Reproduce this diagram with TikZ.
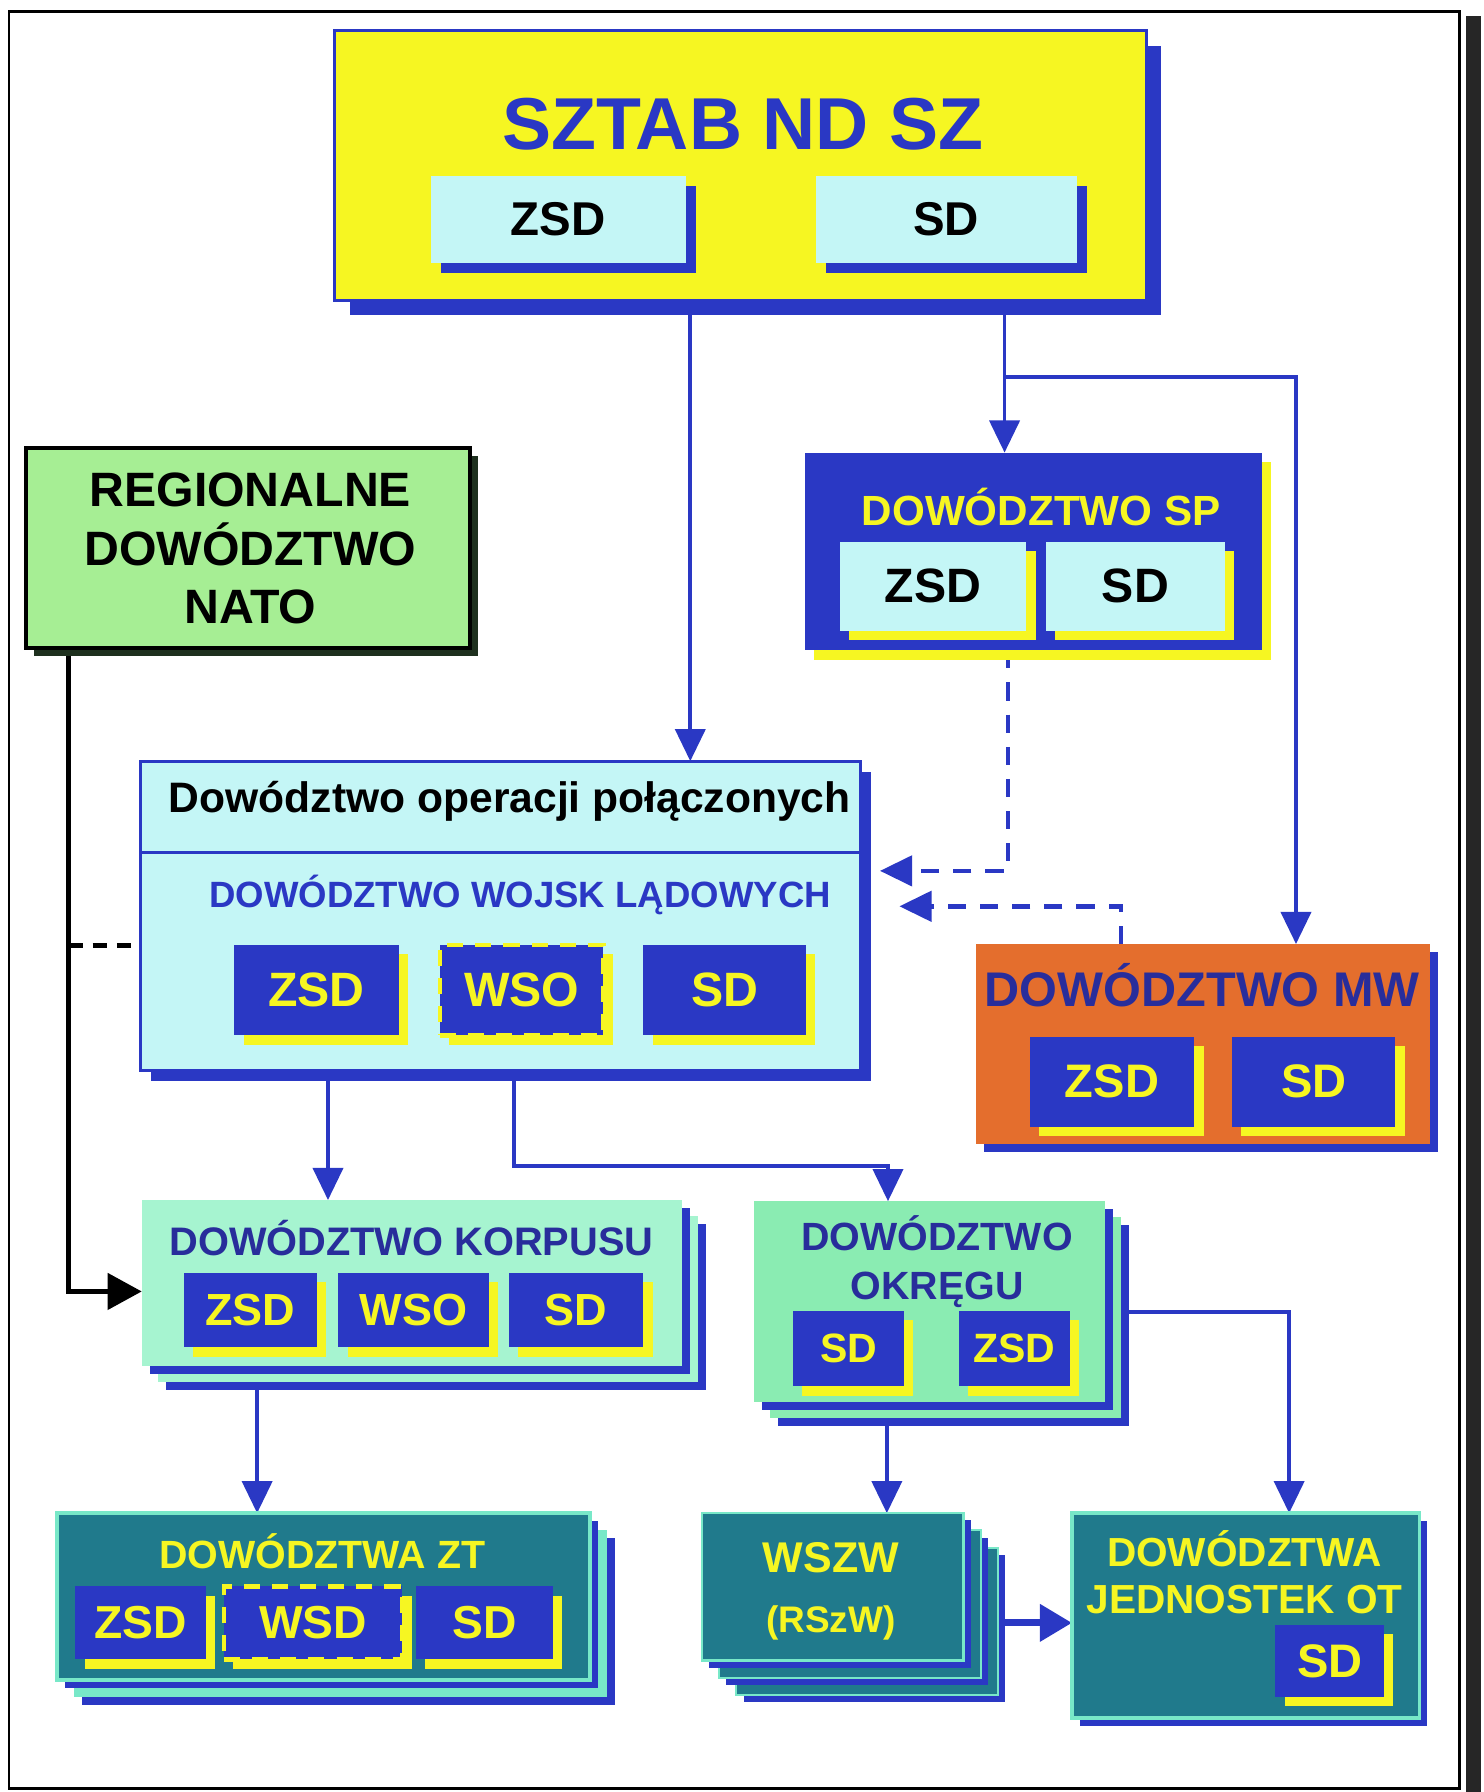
\documentclass[tikz,border=0pt]{standalone}
\usepackage{fontspec}
\setmainfont{Liberation Sans}
\usetikzlibrary{fit,shadows,arrows.meta,backgrounds}
\definecolor{mblue}{RGB}{42,56,196}
\definecolor{navy}{RGB}{40,45,155}
\definecolor{yel}{RGB}{246,246,34}
\definecolor{lcyan}{RGB}{196,246,246}
\definecolor{lgreen}{RGB}{166,238,148}
\definecolor{dgreen}{RGB}{30,48,30}
\definecolor{orng}{RGB}{228,110,45}
\definecolor{mint}{RGB}{166,244,208}
\definecolor{mint2}{RGB}{138,236,178}
\definecolor{teal2}{RGB}{32,122,140}
\definecolor{aqua}{RGB}{120,232,200}
\newcommand\fsz[2]{\fontsize{#1}{#2}\selectfont\bfseries}
\begin{document}
\begin{tikzpicture}[x=0.01cm,y=-0.01cm,
  bx/.style={rectangle,inner sep=0pt,outer sep=0pt},
  ysh/.style={drop shadow={shadow xshift=2.3pt,shadow yshift=-2.3pt,fill=yel,opacity=1}},
  bsh/.style={drop shadow={shadow xshift=#1,shadow yshift=-#1,fill=mblue,opacity=1}},
  bsh/.default=2.3pt,
  lbl/.style={inner sep=0pt,align=center},
  yl/.style={lbl,text=yel,font=\fsz{#1}{14}},
  kl/.style={lbl,text=black,font=\fsz{#1}{14}},
  subbox/.style={bx,fill=mblue,ysh},
  cyanbox/.style={bx,fill=lcyan},
  dashbox/.style={draw=yel,line width=1.1pt,dash pattern=on 4pt off 3pt},
  stackA/.style={
    general shadow={shadow xshift=6pt,shadow yshift=-6pt,fill=mblue,opacity=1},
    general shadow={shadow xshift=4pt,shadow yshift=-4pt,fill=#1,opacity=1},
    general shadow={shadow xshift=2pt,shadow yshift=-2pt,fill=mblue,opacity=1}},
  stackZ/.style={
    general shadow={shadow xshift=6.3pt,shadow yshift=-6.3pt,fill=mblue,opacity=1},
    general shadow={shadow xshift=4.3pt,shadow yshift=-4.3pt,fill=aqua,opacity=1},
    general shadow={shadow xshift=2pt,shadow yshift=-2pt,fill=mblue,opacity=1}},
  stackW/.style={
    general shadow={shadow xshift=10.4pt,shadow yshift=-10.4pt,fill=mblue,opacity=1},
    general shadow={shadow xshift=8.6pt,shadow yshift=-8.6pt,fill=teal2,draw=aqua,line width=0.5pt,opacity=1},
    general shadow={shadow xshift=6.1pt,shadow yshift=-6.1pt,fill=mblue,opacity=1},
    general shadow={shadow xshift=4.3pt,shadow yshift=-4.3pt,fill=teal2,draw=aqua,line width=0.5pt,opacity=1},
    general shadow={shadow xshift=1.8pt,shadow yshift=-1.8pt,fill=mblue,opacity=1}},
  conn/.style={draw=mblue,line width=0.9pt,-{Triangle[length=8pt,width=7.5pt]}},
  dconn/.style={conn,dash pattern=on 4.5pt off 3.5pt,line width=1.1pt}
]
\useasboundingbox (0,0) rectangle (1298,1568);
% frame
\draw[line width=0.6pt] (8,10) rectangle (1277,1565);
\draw[line width=3.7pt,black!85] (1289,14) -- (1289,1568);

% SZTAB ND SZ
\node[bx,fill=yel,draw=mblue,line width=0.8pt,bsh=3.7pt,fit={(293,27) (1003,263)}] (sztab) {};
\node[lbl,text=mblue,font=\fsz{18.3}{22}] (sztabT) at (650,109) {SZTAB ND SZ};
\node[cyanbox,bsh=2.5pt,label={[kl=11.8]center:ZSD},fit={(377,154) (600,230)}] (szZSD) {};
\node[cyanbox,bsh=2.5pt,label={[kl=11.8]center:SD},fit={(714,154) (942,230)}] (szSD) {};

% DOWODZTWO SP
\node[bx,fill=mblue,ysh,fit={(704,396) (1104,569)}] (sp) {};
\node[lbl,text=yel,font=\fsz{10.5}{13}] (spT) at (911,444) {DOWÓDZTWO SP};
\node[cyanbox,ysh,label={[kl=12]center:ZSD},fit={(735,474) (898,552)}] (spZSD) {};
\node[cyanbox,ysh,label={[kl=12]center:SD},fit={(915,474) (1072,552)}] (spSD) {};

% REGIONALNE DOWODZTWO NATO
\node[bx,fill=lgreen,draw=black,line width=1pt,drop shadow={shadow xshift=2pt,shadow yshift=-2pt,fill=dgreen,opacity=1},fit={(23,392) (411,567)}] (nato) {};
\node[lbl,font=\fsz{12}{14.5}] (natoT) at (219,480) {REGIONALNE\\DOWÓDZTWO\\NATO};

% Dowodztwo operacji polaczonych
\node[bx,fill=lcyan,draw=mblue,line width=0.8pt,bsh=2.6pt,fit={(123,666) (753,937)}] (dop) {};
\draw[mblue,line width=0.9pt] (dop.west |- 0,746) -- (dop.east |- 0,746);
\node[lbl,font=\fsz{10.6}{13}] (dopT) at (446,701) {Dowództwo operacji połączonych};
\node[lbl,text=mblue,font=\fsz{9.1}{11}] (dwlT) at (455,783) {DOWÓDZTWO WOJSK LĄDOWYCH};
\node[subbox,label={[yl=12]center:ZSD},fit={(205,827) (349,906)}] (dwZSD) {};
\node[subbox,dashbox,label={[yl=12]center:WSO},fit={(385,827) (528,906)}] (dwWSO) {};
\node[subbox,label={[yl=12]center:SD},fit={(563,827) (705,906)}] (dwSD) {};

% DOWODZTWO MW
\node[bx,fill=orng,bsh=2.1pt,fit={(854,826) (1251,1001)}] (mw) {};
\node[lbl,text=navy,font=\fsz{12.1}{14}] (mwT) at (1052,862) {DOWÓDZTWO MW};
\node[subbox,label={[yl=11.7]center:ZSD},fit={(901,907) (1045,986)}] (mwZSD) {};
\node[subbox,label={[yl=11.7]center:SD},fit={(1078,907) (1221,986)}] (mwSD) {};

% DOWODZTWO KORPUSU
\node[bx,fill=mint,stackA=mint,fit={(124,1050) (597,1195)}] (korp) {};
\node[lbl,text=navy,font=\fsz{9.9}{12}] (korpT) at (360,1083) {DOWÓDZTWO KORPUSU};
\node[subbox,label={[yl=11.2]center:ZSD},fit={(161,1114) (277,1179)}] (kZSD) {};
\node[subbox,label={[yl=11.2]center:WSO},fit={(296,1114) (428,1179)}] (kWSO) {};
\node[subbox,label={[yl=11.2]center:SD},fit={(445,1114) (563,1179)}] (kSD) {};

% DOWODZTWO OKREGU
\node[bx,fill=mint2,stackA=mint2,fit={(660,1051) (967,1227)}] (okr) {};
\node[lbl,text=navy,font=\fsz{9.8}{12}] (okrT) at (820,1104) {DOWÓDZTWO\\OKRĘGU};
\node[subbox,label={[yl=10.2]center:SD},fit={(694,1147) (791,1213)}] (oSD) {};
\node[subbox,label={[yl=10.2]center:ZSD},fit={(839,1147) (936,1213)}] (oZSD) {};

% DOWODZTWA ZT
\node[bx,fill=teal2,draw=aqua,line width=0.9pt,stackZ,fit={(50,1324) (516,1470)}] (zt) {};
\node[lbl,text=yel,font=\fsz{9.8}{12}] (ztT) at (282,1357) {DOWÓDZTWA ZT};
\node[subbox,label={[yl=11.5]center:ZSD},fit={(66,1388) (180,1452)}] (zZSD) {};
\node[subbox,dashbox,label={[yl=11.5]center:WSD},fit={(196,1388) (352,1452)}] (zWSD) {};
\node[subbox,label={[yl=11.5]center:SD},fit={(364,1388) (484,1452)}] (zSD) {};

% WSZW
\node[bx,fill=teal2,draw=aqua,line width=0.6pt,stackW,fit={(614,1324) (843,1453)}] (wszw) {};
\node[lbl,text=yel,font=\fsz{10.7}{13}] (wszwT) at (727,1363) {WSZW};
\node[lbl,text=yel,font=\fsz{9.2}{11}] (rszwT) at (727,1420) {(RSzW)};

% DOWODZTWA JEDNOSTEK OT
\node[bx,fill=teal2,draw=aqua,line width=0.9pt,bsh=2pt,fit={(938,1324) (1242,1503)}] (jot) {};
\node[lbl,text=yel,font=\fsz{10.1}{11.7}] (jotT) at (1089,1376) {DOWÓDZTWA\\JEDNOSTEK OT};
\node[subbox,label={[yl=11.7]center:SD},fit={(1116,1422) (1211,1485)}] (jSD) {};

% connectors
\begin{scope}[on background layer]
\coordinate (j1) at (879,330);
\coordinate (j2) at (777,1020);
\coordinate (dopR1) at (770,762);
\coordinate (dopR2) at (787,793);
\coordinate (nb) at (60,827);
\draw[conn] (sztab.south -| 604,0) -- (dop.north -| 604,0);
\draw[conn] (sztab.south -| j1) -- (sp.north -| j1);
\draw[conn] (j1) -| (mw.north -| 1134,0);
\draw[dconn] (sp.south -| 882,0) |- (dopR1);
\draw[dconn] (mw.north -| 981,0) |- (dopR2);
\draw[line width=1.1pt,-{Triangle[length=8.5pt,width=9pt]}] (nato.south -| nb) |- (korp.west |- 0,1130);
\draw[line width=1.3pt,dash pattern=on 3.5pt off 2.5pt] (nb) -- (dop.west |- nb);
\draw[conn] (dop.south -| 287,0) -- (korp.north -| 287,0);
\draw[conn] (dop.south -| 450,0) |- (j2) -- (okr.north -| j2);
\draw[conn] (korp.south -| 225,0) -- (zt.north -| 225,0);
\draw[conn] (okr.south -| 776,0) -- (wszw.north -| 776,0);
\draw[conn] (okr.east |- 0,1148) -| (jot.north -| 1128,0);
\draw[draw=mblue,line width=1.7pt,-{Triangle[length=8pt,width=9pt]}] (wszw.east |- 0,1420) -- (jot.west |- 0,1420);
\end{scope}
\end{tikzpicture}
\end{document}
